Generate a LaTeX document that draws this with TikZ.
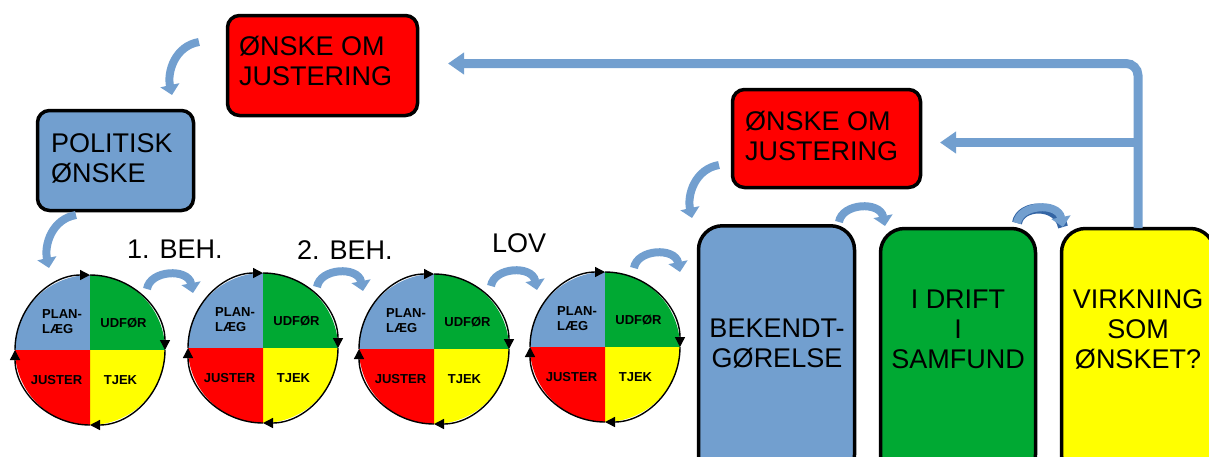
\documentclass[tikz,border=0pt]{standalone}
\usepackage{fontspec}
\setmainfont{Liberation Sans}
\usetikzlibrary{arrows.meta}
\definecolor{cblue}{RGB}{114,159,207}
\definecolor{cgreen}{RGB}{0,169,51}
\definecolor{cred}{RGB}{255,0,0}
\definecolor{cyellow}{RGB}{255,255,0}
\definecolor{cdark}{RGB}{52,101,164}
\begin{document}
\begin{tikzpicture}[x=1pt,y=1pt,
  box/.style={draw=black, line width=3.5pt, rounded corners=12pt, inner sep=0pt},
  bigbox/.style={box, rounded corners=24pt},
  big/.style={font=\fontsize{27}{30}\selectfont, inner sep=0pt},
  small/.style={font=\bfseries\fontsize{13}{15}\selectfont, inner sep=0pt},
  flow/.style={draw=cblue, line width=9pt, -{Triangle[length=16pt,width=21pt]}},
  curv/.style={draw=cblue, line width=8pt, -{Triangle[length=10pt,width=19pt]}},
  cyc/.style={line width=1.4pt, -{Triangle[length=10pt,width=10pt]}}]
\useasboundingbox (0,0) rectangle (1209,-456);
\clip (0,0) rectangle (1209,-456);

% boxes (multi-line nodes: base = last line)
\node[box, fill=cred, minimum width=190pt, minimum height=100pt] (req1) at (322.5,-65.5) {};
\node[big, align=left, anchor=base west] (req1t) at (239,-85) {ØNSKE OM\\JUSTERING};
\node[box, fill=cblue, minimum width=156pt, minimum height=100pt] (pol) at (115.5,-160.5) {};
\node[big, align=left, anchor=base west] (polt) at (51,-182) {POLITISK\\ØNSKE};
\node[box, fill=cred, minimum width=188pt, minimum height=98pt] (req2) at (826.5,-138.5) {};
\node[big, align=left, anchor=base west] (req2t) at (745,-160) {ØNSKE OM\\JUSTERING};

\node[bigbox, fill=cblue, minimum width=156pt, minimum height=253pt] (bek) at (776.5,-352.25) {};
\node[big, align=center, anchor=base] (bekt) at (777,-367) {BEKENDT-\\GØRELSE};
\node[bigbox, fill=cgreen, minimum width=155pt, minimum height=250pt] (drift) at (958,-353.5) {};
\node[big, align=center, anchor=base] (driftt) at (958,-368) {I DRIFT\\I\\SAMFUND};
\node[bigbox, fill=cyellow, minimum width=153pt, minimum height=250pt] (virk) at (1138,-353.5) {};
\node[big, align=center, anchor=base] (virkt) at (1138,-368) {VIRKNING\\SOM\\ØNSKET?};

% PDCA circles
\foreach \i/\cx/\cy in {1/90/350,2/263/348,3/434/349,4/605/347}{
  \begin{scope}[shift={(\cx,-\cy)}]
    \fill[cblue] (0,0) -- (180:75) arc[start angle=180,end angle=90,radius=75] -- cycle;
    \fill[cgreen] (0,0) -- (90:75) arc[start angle=90,end angle=0,radius=75] -- cycle;
    \fill[cyellow] (0,0) -- (0:75) arc[start angle=0,end angle=-90,radius=75] -- cycle;
    \fill[cred] (0,0) -- (-90:75) arc[start angle=-90,end angle=-180,radius=75] -- cycle;
    \node[circle, minimum size=150pt, inner sep=0pt] (c\i) at (0,0) {};
    \draw[cyc] (180:75) arc[start angle=180,end angle=90,radius=75];
    \draw[cyc] (90:75) arc[start angle=90,end angle=0,radius=75];
    \draw[cyc] (0:75) arc[start angle=0,end angle=-90,radius=75];
    \draw[cyc] (-90:75) arc[start angle=-90,end angle=-180,radius=75];
    \node[small, align=left, anchor=base west] (pl\i) at (-48,17) {PLAN-\\LÆG};
    \node[small, anchor=base] (ud\i) at (33.5,23) {UDFØR};
    \node[small, anchor=base] (ju\i) at (-33.5,-34) {JUSTER};
    \node[small, anchor=base] (tj\i) at (30.5,-34) {TJEK};
  \end{scope}}

% labels
\node[big, anchor=base west] (beh1) at (127,-258) {1. BEH.};
\node[big, anchor=base west] (beh2) at (297,-259) {2. BEH.};
\node[big, anchor=base west] (lov) at (492,-252) {LOV};

% arched arrows between steps
\foreach \sx/\sy in {147/289, 317/287, 491/286, 634/268, 839/222}{
  \draw[curv] (\sx,-\sy) .. controls +(3,19) and +(-5,25) .. +(46,-4);
}
\draw[curv, draw=cblue, preaction={draw=cdark, line width=10pt, -}] (1017,-223) .. controls +(3,19) and +(-5,25) .. +(46,-4);

% C-shaped arrows
\foreach \sx/\sy in {199/42, 76/215, 719/165}{
  \draw[curv] (\sx,-\sy) .. controls +(-24,-4) and +(-5,23) .. +(-27,-53);
}

% feedback arrows
\coordinate (vtop) at (1138,-228);
\coordinate (fb1) at (448,-63.5);
\coordinate (fbj) at (1138,-142.5);
\coordinate (fb2) at (940,-142.5);
\draw[flow, rounded corners=12pt] (vtop) |- (fb1);
\draw[flow] (fbj) -- (fb2);
\end{tikzpicture}
\end{document}
